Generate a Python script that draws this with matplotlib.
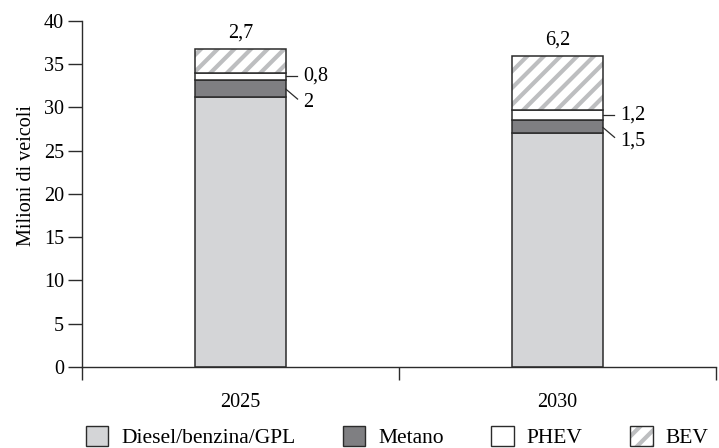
import matplotlib
matplotlib.use('Agg')
import matplotlib.pyplot as plt
import matplotlib.patches as mpatches
from matplotlib.legend_handler import HandlerTuple
import numpy as np

# Parco auto per alimentazione (milioni di veicoli)
anni = ['2025', '2030']
fossili = [31.2, 27.0]
metano = [2.0, 1.5]
phev = [0.8, 1.2]
bev = [2.7, 6.2]

etichette = ['Diesel/benzina/GPL', 'Metano', 'PHEV', 'BEV']
dark = '#2b2b2b'
c_fossili = '#d4d5d7'
c_metano = '#7f7f82'
c_bev = '#bdbec0'

plt.rcParams['font.family'] = ['Liberation Serif', 'DejaVu Serif']
plt.rcParams['font.size'] = 14.5
plt.rcParams['hatch.linewidth'] = 3.0

fig = plt.figure(figsize = (7.19, 4.48), dpi = 100)
ax = fig.add_axes([82 / 719, 1 - 367 / 448, 634 / 719, (367 - 20.7) / 448])

x = np.arange(len(anni))
w = 0.286
fossili = np.array(fossili)
metano = np.array(metano)
phev = np.array(phev)
bev = np.array(bev)

ax.bar(x, fossili, w, color = c_fossili, edgecolor = dark, lw = 1.1, zorder = 2)
ax.bar(x, metano, w, bottom = fossili, color = c_metano, edgecolor = dark, lw = 1.1, zorder = 2)
ax.bar(x, phev, w, bottom = fossili + metano, color = 'white', edgecolor = dark, lw = 1.1, zorder = 2)
# BEV: hatch in grigio, bordo scuro sovrapposto
ax.bar(x, bev, w, bottom = fossili + metano + phev, color = 'white',
       edgecolor = c_bev, hatch = '//', lw = 0, zorder = 2)
ax.bar(x, bev, w, bottom = fossili + metano + phev, fill = False,
       edgecolor = dark, lw = 1.1, zorder = 3)

# Etichette dei valori
fmt = lambda v: f'{v:g}'.replace('.', ',')
tops = fossili + metano + phev + bev
for i in range(len(anni)):
    ax.text(x[i], tops[i] + 0.8, fmt(bev[i]), ha = 'center', va = 'bottom')
    right = x[i] + w / 2
    # PHEV: linea orizzontale
    yp = fossili[i] + metano[i] + phev[i] / 2
    ax.plot([right, right + 0.035], [yp, yp], color = dark, lw = 0.9, clip_on = False)
    ax.text(right + 0.055, yp, fmt(phev[i]), ha = 'left', va = 'center')
    # Metano: linea obliqua
    ym = fossili[i] + metano[i] * 0.45
    ax.plot([right, right + 0.037], [ym, ym - 1.15], color = dark, lw = 0.9, clip_on = False)
    ax.text(right + 0.055, ym - 1.55, fmt(metano[i]), ha = 'left', va = 'center')

ax.set_xlim(-0.5, 1.5)
ax.set_ylim(0, 40)
ax.set_yticks(np.arange(0, 41, 5))
ax.set_xticks(x)
ax.set_xticklabels(anni)
ax.set_xticks([-0.5, 0.5, 1.5], minor = True)
ax.tick_params(axis = 'x', which = 'major', length = 0, pad = 19)
ax.tick_params(axis = 'x', which = 'minor', length = 9, width = 1, color = dark, direction = 'out')
ax.tick_params(axis = 'y', length = 10, width = 1, color = dark, pad = 3, direction = 'out')
ax.set_ylabel('Milioni di veicoli')
ax.yaxis.set_label_coords(-0.073, 0.554)

for s in ['top', 'right']:
    ax.spines[s].set_visible(False)
for s in ['left', 'bottom']:
    ax.spines[s].set_color(dark)
    ax.spines[s].set_linewidth(1)

# Legenda
h1 = mpatches.Patch(facecolor = c_fossili, edgecolor = dark, lw = 1)
h2 = mpatches.Patch(facecolor = c_metano, edgecolor = dark, lw = 1)
h3 = mpatches.Patch(facecolor = 'white', edgecolor = dark, lw = 1)
h4a = mpatches.Patch(facecolor = 'white', edgecolor = c_bev, hatch = '//', lw = 0)
h4b = mpatches.Patch(fill = False, edgecolor = dark, lw = 1)
fig.legend([h1, h2, h3, (h4a, h4b)], etichette, ncol = 4, frameon = False,
           loc = 'center', bbox_to_anchor = (397 / 719, 1 - 437 / 448),
           fontsize = 15.5, handlelength = 1.05, handleheight = 1.05, handletextpad = 0.6,
           columnspacing = 2.2, borderpad = 0,
           handler_map = {tuple: HandlerTuple(ndivide = 1, pad = 0)})

fig.savefig('out.png', dpi = 100)
